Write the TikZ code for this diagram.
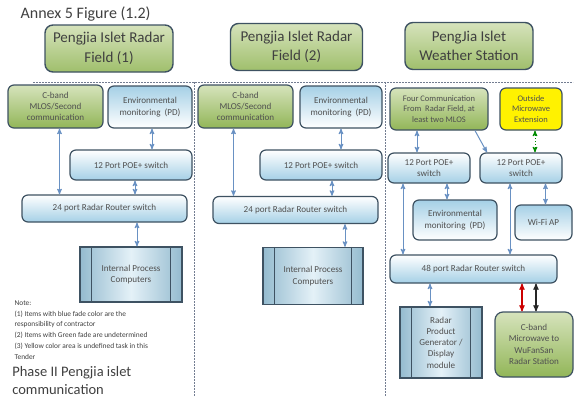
\documentclass[tikz,border=0pt]{standalone}
\usepackage{fontspec}
\setmainfont{Carlito}
\usetikzlibrary{arrows}
\definecolor{bordc}{RGB}{62,82,98}
\definecolor{grtop}{RGB}{214,227,188}
\definecolor{grbot}{RGB}{146,182,88}
\definecolor{blfade}{RGB}{165,208,230}
\definecolor{arrc}{RGB}{105,145,195}
\definecolor{txtc}{RGB}{64,64,64}
\definecolor{boxtxt}{RGB}{80,80,80}
\definecolor{sepc}{RGB}{115,125,145}
\newcommand{\boxfont}{\fontsize{9.1}{11.3}\selectfont}
\begin{document}
\begin{tikzpicture}[x=1pt,y=-1pt,semithick,>=stealth',
head/.style={draw=bordc,line width=1.4pt,rounded corners=8pt,top color=grtop,bottom color=grbot!80!grtop,minimum width=128,minimum height=47,align=center,font=\fontsize{15}{19.5}\selectfont,text=txtc},
greenbox/.style={draw=bordc,line width=1.2pt,rounded corners=6pt,top color=grtop,bottom color=grbot,align=center,font=\boxfont,text=boxtxt,inner sep=1pt},
bluebox/.style={draw=bordc,line width=1.2pt,rounded corners=6pt,top color=white,bottom color=blfade,align=center,font=\boxfont,text=boxtxt,inner sep=1pt},
envbox/.style={bluebox,top color=blfade,bottom color=white},
yelbox/.style={draw=bordc,line width=1.2pt,rounded corners=6pt,fill=yellow,align=center,font=\boxfont,text=boxtxt,inner sep=1pt},
procbox/.style={draw=bordc,line width=1.2pt,left color=blfade!90!black,right color=blfade!90!black,middle color=blfade!30!white,align=center,font=\boxfont,text=boxtxt,inner sep=1pt},
link/.style={<->,draw=arrc,line width=1pt},
sep/.style={draw=sepc,dash pattern=on 2pt off 1pt,line width=0.8pt}]
\useasboundingbox[fill=white](0,0)rectangle(574,397);
\node[anchor=west,font=\fontsize{16}{18}\selectfont,text=txtc](ttl)at(17,14){Annex 5 Figure (1.2)};
\node[head](hd1)at(109,48.5){Pengjia Islet Radar\\Field (1)};
\node[head,minimum width=132](hd2)at(296.5,47){Pengjia Islet Radar\\Field (2)};
\node[head](hd3)at(469,46){PengJia Islet\\Weather Station};
\draw[sep](33,82)--(573,82)(194,82)--(194,396)(385,82)--(385,396);
\node[greenbox,minimum width=95,minimum height=43](cb1)at(55.5,106.5){C-band\\MLOS/Second\\communication};
\node[envbox,minimum width=84,minimum height=42](env1)at(150,107){Environmental\\monitoring\ \ (PD)};
\node[bluebox,minimum width=122,minimum height=30](poe1)at(131,165){12 Port POE+ switch};
\node[bluebox,minimum width=165,minimum height=27](rt1)at(104.5,208.5){24 port Radar Router switch};
\node[procbox,minimum width=102,minimum height=55](ipc1)at(131,274.5){Internal Process\\Computers};
\node[greenbox,minimum width=95,minimum height=43](cb2)at(245.5,106.5){C-band\\MLOS/Second\\communication};
\node[envbox,minimum width=82,minimum height=42](env2)at(341,107){Environmental\\monitoring\ \ (PD)};
\node[bluebox,minimum width=122,minimum height=30](poe2)at(321,165){12 Port POE+ switch};
\node[bluebox,minimum width=165,minimum height=27](rt2)at(295.5,210){24 port Radar Router switch};
\node[procbox,minimum width=100,minimum height=57](ipc2)at(313,276){Internal Process\\Computers};
\node[greenbox,minimum width=98,minimum height=42,font=\fontsize{8.5}{10.6}\selectfont](fc)at(439,109){Four Communication\\From\ \ Radar Field, at\\least two MLOS};
\node[yelbox,minimum width=62,minimum height=42,font=\fontsize{8.5}{10.6}\selectfont](omx)at(531,109){Outside\\Microwave\\Extension};
\node[bluebox,minimum width=82,minimum height=30](poe3)at(429,168){12 Port POE+\\switch};
\node[bluebox,minimum width=82,minimum height=30](poe4)at(521,168){12 Port POE+\\switch};
\node[envbox,minimum width=84,minimum height=40](env3)at(455,220){Environmental\\monitoring\ \ (PD)};
\node[envbox,minimum width=57,minimum height=35](wifi)at(543.5,222.5){Wi-Fi AP};
\node[bluebox,minimum width=167,minimum height=28](rt3)at(473.5,269){48 port Radar Router switch};
\node[procbox,minimum width=82,minimum height=71](rpg)at(441,342.5){Radar\\Product\\Generator /\\Display\\module};
\node[greenbox,rounded corners=8pt,minimum width=78,minimum height=65](cbm)at(534,344.5){C-band\\Microwave to\\WuFanSan\\Radar Station};
\foreach \p in {ipc1,ipc2,rpg}
\draw[draw=bordc,line width=1.2pt]([xshift=12]\p.north west)--([xshift=12]\p.south west)([xshift=-12]\p.north east)--([xshift=-12]\p.south east);
\draw[link]([xshift=4]cb1.south)--([xshift=4]cb1.south|-rt1.north);
\draw[link]([xshift=2]env1.south)--([xshift=2]env1.south|-poe1.north);
\draw[link]([xshift=4]poe1.south)--([xshift=4]poe1.south|-rt1.north);
\draw[link]([xshift=6]ipc1.north)--([xshift=6]ipc1.north|-rt1.south);
\draw[link]([xshift=-12]cb2.south)--([xshift=-12]cb2.south|-rt2.north);
\draw[link](env2.south)--(env2.south|-poe2.north);
\draw[link]([xshift=11]poe2.south)--([xshift=11]poe2.south|-rt2.north);
\draw[link]([xshift=32]ipc2.north)--([xshift=32]ipc2.north|-rt2.south);
\draw[link]([xshift=-12]poe3.north)--([xshift=-12]poe3.north|-fc.south);
\draw[->,draw=arrc,line width=1pt]([xshift=36]fc.south)--([xshift=-34]poe4.north);
\draw[<->,draw=green!55!black,dotted,line width=1pt]([xshift=4]omx.south)--([xshift=4]omx.south|-poe4.north);
\draw[link]([xshift=-8]env3.north)--([xshift=-8]env3.north|-poe3.south);
\draw[link]([xshift=2]wifi.north)--([xshift=2]wifi.north|-poe4.south);
\draw[link]([xshift=-26]poe3.south)--([xshift=-26]poe3.south|-rt3.north);
\draw[link]([xshift=-11]poe4.south)--([xshift=-11]poe4.south|-rt3.north);
\draw[link]([xshift=-11]rpg.north)--([xshift=-11]rpg.north|-rt3.south);
\draw[<->,draw=red!80!black,line width=1.2pt]([xshift=-12]cbm.north)--([xshift=-12]cbm.north|-rt3.south);
\draw[<->,draw=black!85,line width=1.2pt]([xshift=2]cbm.north)--([xshift=2]cbm.north|-rt3.south);
\node[anchor=north west,align=left,text=txtc,font=\fontsize{7.4}{10.8}\selectfont](note)at(11,297){Note:\\(1) Items with blue fade color are the\\responsibility of contractor\\(2) Items with Green fade are undetermined\\(3) Yellow color area is undefined task in this\\Tender};
\node[anchor=south west,align=left,text=txtc,font=\fontsize{14.5}{18}\selectfont,inner sep=1pt](phase)at(11,396){Phase II Pengjia islet\\communication};
\end{tikzpicture}
\end{document}
